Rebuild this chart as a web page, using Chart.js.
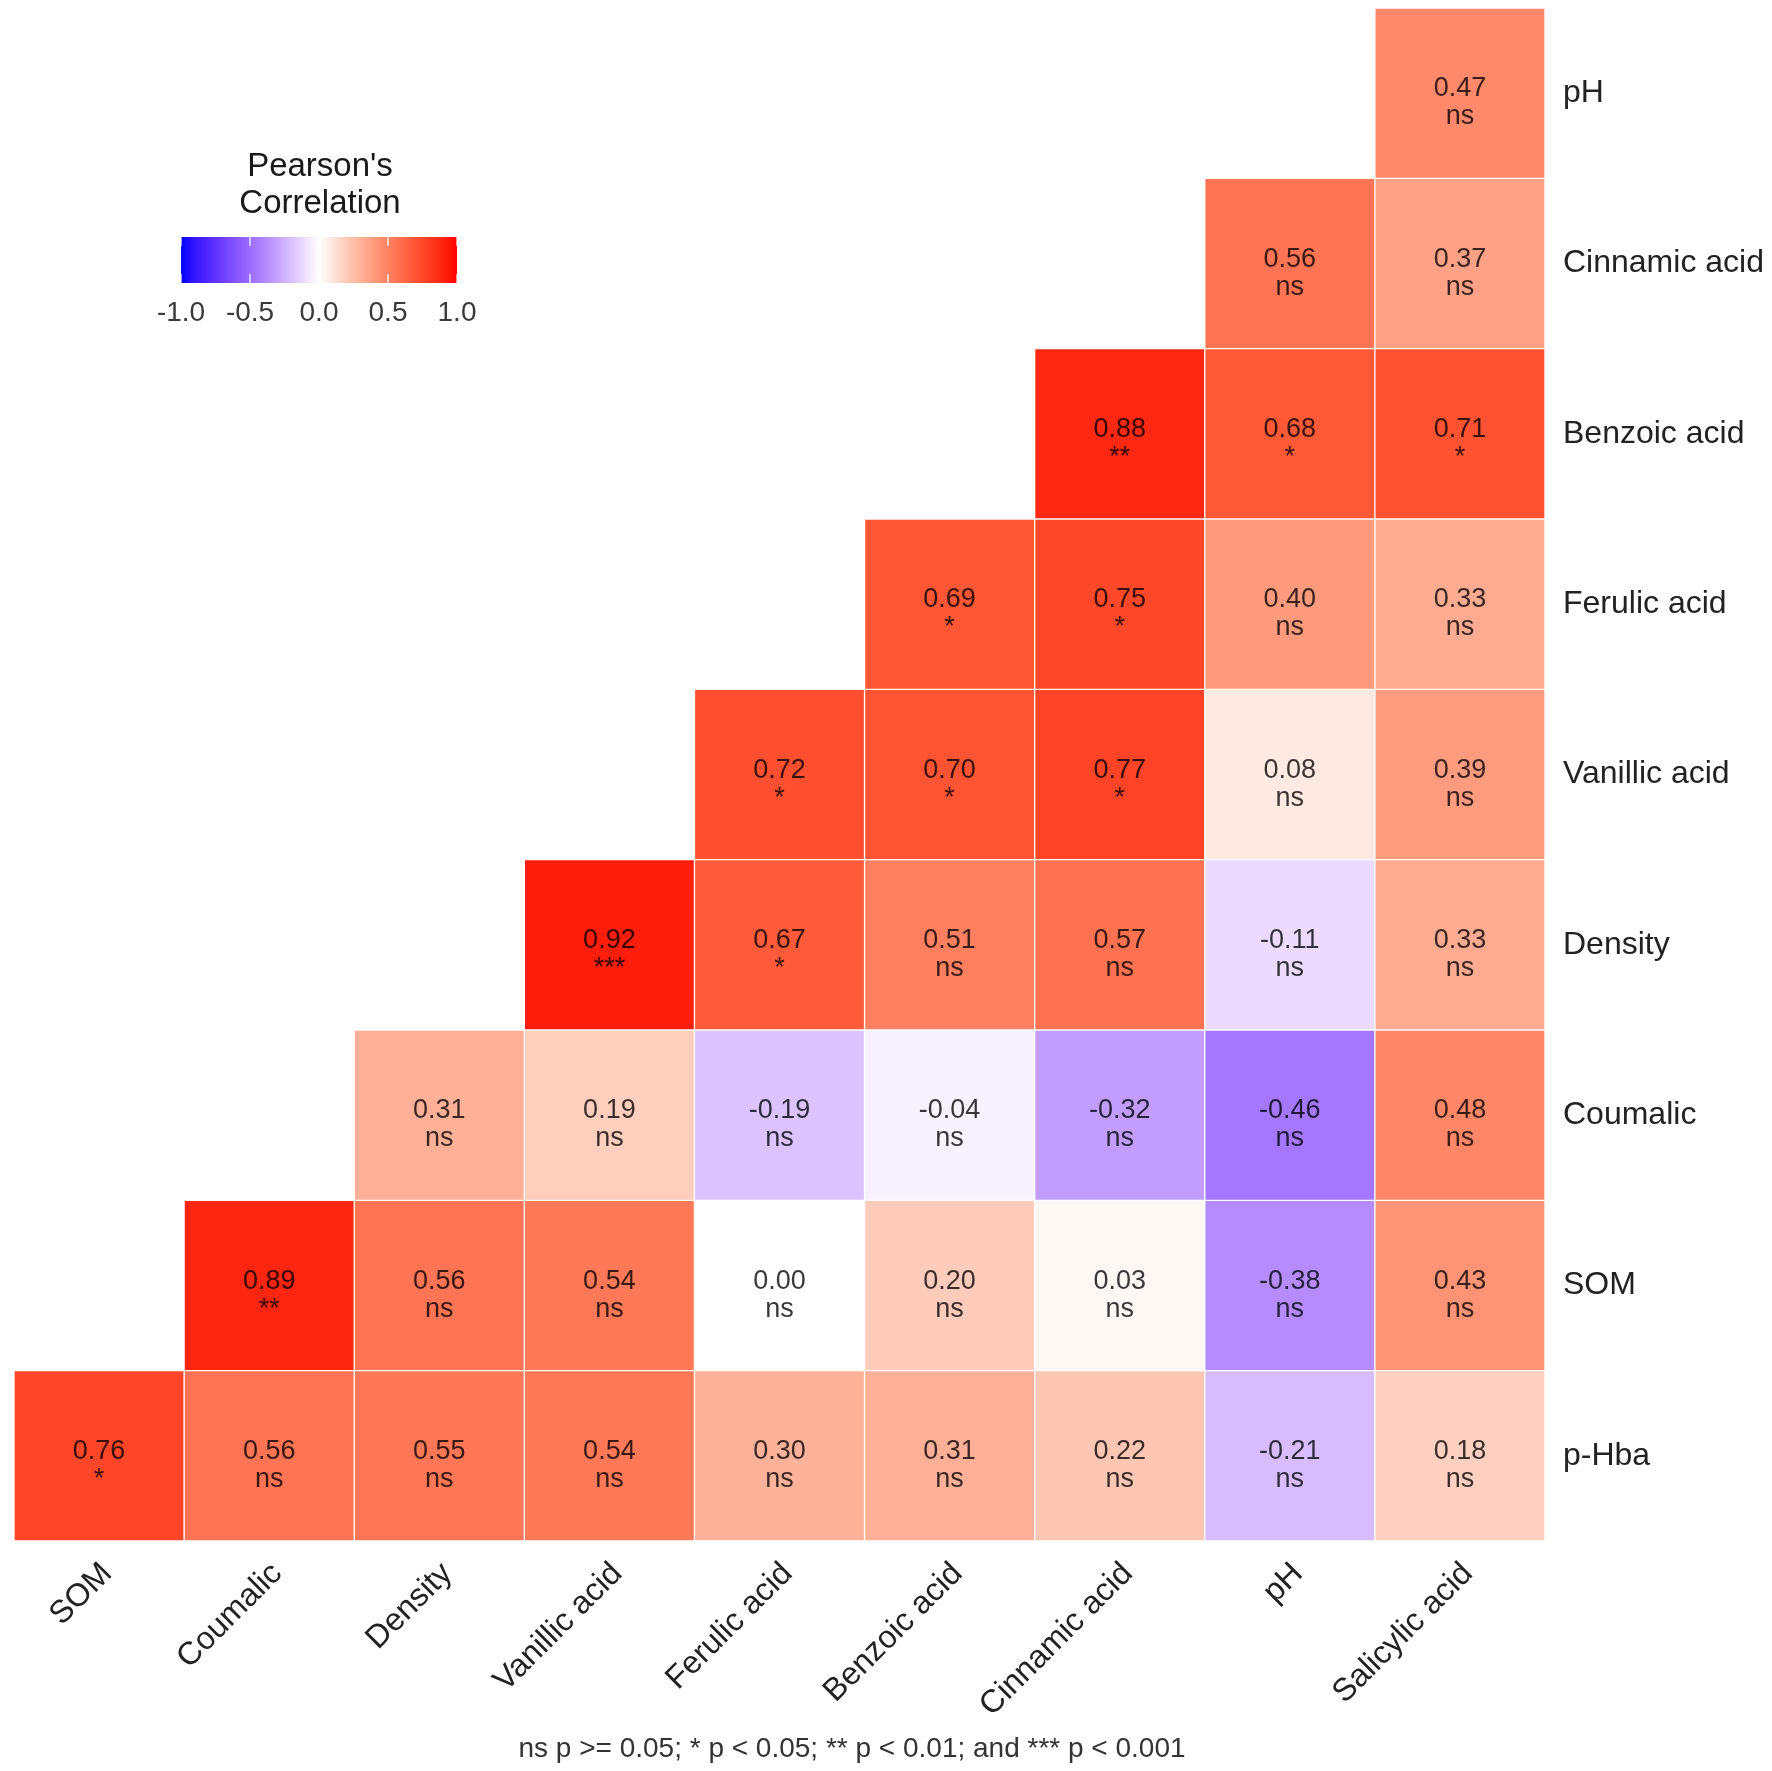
<!DOCTYPE html>
<html>
<head>
<meta charset="utf-8">
<script src="https://cdn.jsdelivr.net/npm/chart.js@4.4.1/dist/chart.umd.min.js"></script>
<style>
  html, body { margin: 0; padding: 0; background: #ffffff; }
  #wrap { width: 1772px; height: 1771px; }
</style>
</head>
<body>
<div id="wrap"><canvas id="c" width="1772" height="1771"></canvas></div>
<script>
// ---- Data ----
const colLabels = ["SOM", "Coumalic", "Density", "Vanillic acid", "Ferulic acid", "Benzoic acid", "Cinnamic acid", "pH", "Salicylic acid"];
// rows listed top to bottom
const rowLabels = ["pH", "Cinnamic acid", "Benzoic acid", "Ferulic acid", "Vanillic acid", "Density", "Coumalic", "SOM", "p-Hba"];

const rPH        = [null, null, null, null, null, null, null, null, 0.47];
const rCinnamic  = [null, null, null, null, null, null, null, 0.56, 0.37];
const rBenzoic   = [null, null, null, null, null, null, 0.88, 0.68, 0.71];
const rFerulic   = [null, null, null, null, null, 0.69, 0.75, 0.40, 0.33];
const rVanillic  = [null, null, null, null, 0.72, 0.70, 0.77, 0.08, 0.39];
const rDensity   = [null, null, null, 0.92, 0.67, 0.51, 0.57, -0.11, 0.33];
const rCoumalic  = [null, null, 0.31, 0.19, -0.19, -0.04, -0.32, -0.46, 0.48];
const rSOM       = [null, 0.89, 0.56, 0.54, 0.00, 0.20, 0.03, -0.38, 0.43];
const rPHba      = [0.76, 0.56, 0.55, 0.54, 0.30, 0.31, 0.22, -0.21, 0.18];

const sPH        = [null, null, null, null, null, null, null, null, "ns"];
const sCinnamic  = [null, null, null, null, null, null, null, "ns", "ns"];
const sBenzoic   = [null, null, null, null, null, null, "**", "*", "*"];
const sFerulic   = [null, null, null, null, null, "*", "*", "ns", "ns"];
const sVanillic  = [null, null, null, null, "*", "*", "*", "ns", "ns"];
const sDensity   = [null, null, null, "***", "*", "ns", "ns", "ns", "ns"];
const sCoumalic  = [null, null, "ns", "ns", "ns", "ns", "ns", "ns", "ns"];
const sSOM       = [null, "**", "ns", "ns", "ns", "ns", "ns", "ns", "ns"];
const sPHba      = ["*", "ns", "ns", "ns", "ns", "ns", "ns", "ns", "ns"];

const legendBreaks = [-1.0, -0.5, 0.0, 0.5, 1.0];
const legendTitle = ["Pearson's", "Correlation"];
const footnote = "ns p >= 0.05; * p < 0.05; ** p < 0.01; and *** p < 0.001";

const rowValues = [rPH, rCinnamic, rBenzoic, rFerulic, rVanillic, rDensity, rCoumalic, rSOM, rPHba];
const rowSig = [sPH, sCinnamic, sBenzoic, sFerulic, sVanillic, sDensity, sCoumalic, sSOM, sPHba];

// ---- Colour scale (CIELAB interpolation like ggplot2 gradient2) ----
function toLin(c) { c /= 255; return c <= 0.04045 ? c / 12.92 : Math.pow((c + 0.055) / 1.055, 2.4); }
function fromLin(c) { const v = c <= 0.0031308 ? 12.92 * c : 1.055 * Math.pow(c, 1 / 2.4) - 0.055; return Math.max(0, Math.min(1, v)); }
const WX = 0.95047, WY = 1.0, WZ = 1.08883;
function rgb2lab(rgb) {
  const r = toLin(rgb[0]), g = toLin(rgb[1]), b = toLin(rgb[2]);
  const X = (0.4124564 * r + 0.3575761 * g + 0.1804375 * b) / WX;
  const Y = (0.2126729 * r + 0.7151522 * g + 0.0721750 * b) / WY;
  const Z = (0.0193339 * r + 0.1191920 * g + 0.9503041 * b) / WZ;
  const f = t => t > 0.008856 ? Math.cbrt(t) : 7.787 * t + 16 / 116;
  const fx = f(X), fy = f(Y), fz = f(Z);
  return [116 * fy - 16, 500 * (fx - fy), 200 * (fy - fz)];
}
const GAMMA = 1.4; // tone of the reference print
function lab2rgb(lab) {
  const fy = (lab[0] + 16) / 116, fx = fy + lab[1] / 500, fz = fy - lab[2] / 200;
  const inv = t => { const t3 = t * t * t; return t3 > 0.008856 ? t3 : (t - 16 / 116) / 7.787; };
  const X = inv(fx) * WX, Y = inv(fy) * WY, Z = inv(fz) * WZ;
  const r = 3.2404542 * X - 1.5371385 * Y - 0.4985314 * Z;
  const g = -0.9692660 * X + 1.8760108 * Y + 0.0415560 * Z;
  const b = 0.0556434 * X - 0.2040259 * Y + 1.0572252 * Z;
  return [r, g, b].map(c => Math.round(Math.pow(fromLin(Math.max(0, c)), GAMMA) * 255));
}
const LAB_LOW = rgb2lab([0, 0, 255]);
const LAB_MID = rgb2lab([255, 255, 255]);
const LAB_HIGH = rgb2lab([255, 0, 0]);
function corrColor(v) {
  const t = Math.min(1, Math.abs(v));
  const end = v >= 0 ? LAB_HIGH : LAB_LOW;
  const lab = [0, 1, 2].map(i => LAB_MID[i] + (end[i] - LAB_MID[i]) * t);
  const c = lab2rgb(lab);
  return `rgb(${c[0]},${c[1]},${c[2]})`;
}

// ---- Datasets: one floating-bar dataset per row ----
const nRows = rowLabels.length;
const datasets = rowLabels.map((name, ri) => {
  const level = nRows - 1 - ri; // 0 = bottom row
  const vals = rowValues[ri];
  return {
    label: name,
    data: vals.map(v => (v === null ? null : [level, level + 1])),
    backgroundColor: vals.map(v => (v === null ? 'rgba(0,0,0,0)' : corrColor(v))),
    borderColor: 'rgba(255,255,255,0.55)',
    borderWidth: 1,
    borderSkipped: false,
    grouped: false,
    barPercentage: 1.0,
    categoryPercentage: 1.0,
    corr: vals,
    sig: rowSig[ri]
  };
});

const FONT = "'Liberation Sans', Arial, Helvetica, sans-serif";

const cellTextPlugin = {
  id: 'cellText',
  afterDatasetsDraw(chart) {
    const ctx = chart.ctx;
    ctx.save();
    ctx.textAlign = 'center';
    ctx.textBaseline = 'alphabetic';
    ctx.fillStyle = 'rgba(0,0,0,0.78)';
    ctx.font = `27px ${FONT}`;
    chart.data.datasets.forEach((ds, di) => {
      const meta = chart.getDatasetMeta(di);
      meta.data.forEach((el, ci) => {
        const v = ds.corr[ci];
        if (v === null || v === undefined) return;
        const cy = (el.y + el.base) / 2;
        ctx.fillText(v.toFixed(2), el.x, cy + 3);
        ctx.fillText(ds.sig[ci], el.x, cy + 31);
      });
    });
    ctx.restore();
  }
};

const legendPlugin = {
  id: 'corrLegend',
  afterDraw(chart) {
    const ctx = chart.ctx;
    ctx.save();
    const x0 = 181, x1 = 457, y0 = 237, y1 = 283;
    const grad = ctx.createLinearGradient(x0, 0, x1, 0);
    for (let i = 0; i <= 40; i++) {
      const v = -1 + i / 20;
      grad.addColorStop(i / 40, corrColor(v));
    }
    ctx.fillStyle = grad;
    ctx.fillRect(x0, y0, x1 - x0, y1 - y0);
    // white tick marks
    ctx.strokeStyle = 'rgba(255,255,255,0.8)';
    ctx.lineWidth = 1.5;
    legendBreaks.forEach(b => {
      const x = x0 + (b + 1) / 2 * (x1 - x0);
      ctx.beginPath(); ctx.moveTo(x, y0); ctx.lineTo(x, y0 + 9); ctx.stroke();
      ctx.beginPath(); ctx.moveTo(x, y1 - 9); ctx.lineTo(x, y1); ctx.stroke();
    });
    // tick labels
    ctx.fillStyle = '#3a3a3a';
    ctx.font = `28px ${FONT}`;
    ctx.textAlign = 'center';
    ctx.textBaseline = 'middle';
    legendBreaks.forEach(b => {
      const x = x0 + (b + 1) / 2 * (x1 - x0);
      ctx.fillText(b.toFixed(1), x, 313);
    });
    // title
    ctx.fillStyle = '#1a1a1a';
    ctx.font = `33px ${FONT}`;
    ctx.fillText(legendTitle[0], 320, 167);
    ctx.fillText(legendTitle[1], 320, 204);
    // footnote
    ctx.fillStyle = '#333333';
    ctx.font = `28px ${FONT}`;
    ctx.fillText(footnote, 852, 1749);
    ctx.restore();
  }
};

new Chart(document.getElementById('c'), {
  type: 'bar',
  data: { labels: colLabels, datasets: datasets },
  options: {
    responsive: false,
    devicePixelRatio: 1,
    animation: false,
    layout: { padding: { left: 14, top: 8, right: 0, bottom: 0 } },
    plugins: { legend: { display: false }, tooltip: { enabled: false }, title: { display: false } },
    scales: {
      x: {
        type: 'category',
        offset: true,
        grid: { display: false, drawTicks: false },
        border: { display: false },
        ticks: {
          autoSkip: false, maxRotation: 45, minRotation: 45, padding: 14, labelOffset: 8,
          color: '#222222', font: { family: FONT, size: 32 }
        },
        afterFit(scale) { scale.height = 230; scale.paddingLeft = 0; scale.paddingRight = 0; }
      },
      y: {
        type: 'linear',
        position: 'right',
        min: 0, max: nRows,
        grid: { display: false, drawTicks: false },
        border: { display: false },
        afterBuildTicks(axis) {
          axis.ticks = rowLabels.map((_, i) => ({ value: nRows - 1 - i + 0.5 }));
        },
        ticks: {
          padding: 18,
          color: '#222222',
          font: { family: FONT, size: 32 },
          callback(value) {
            const idx = nRows - 1 - Math.floor(value);
            return rowLabels[idx];
          }
        },
        afterFit(scale) { scale.width = 227; scale.paddingTop = 0; scale.paddingBottom = 0; }
      }
    }
  },
  plugins: [cellTextPlugin, legendPlugin]
});
</script>
</body>
</html>
